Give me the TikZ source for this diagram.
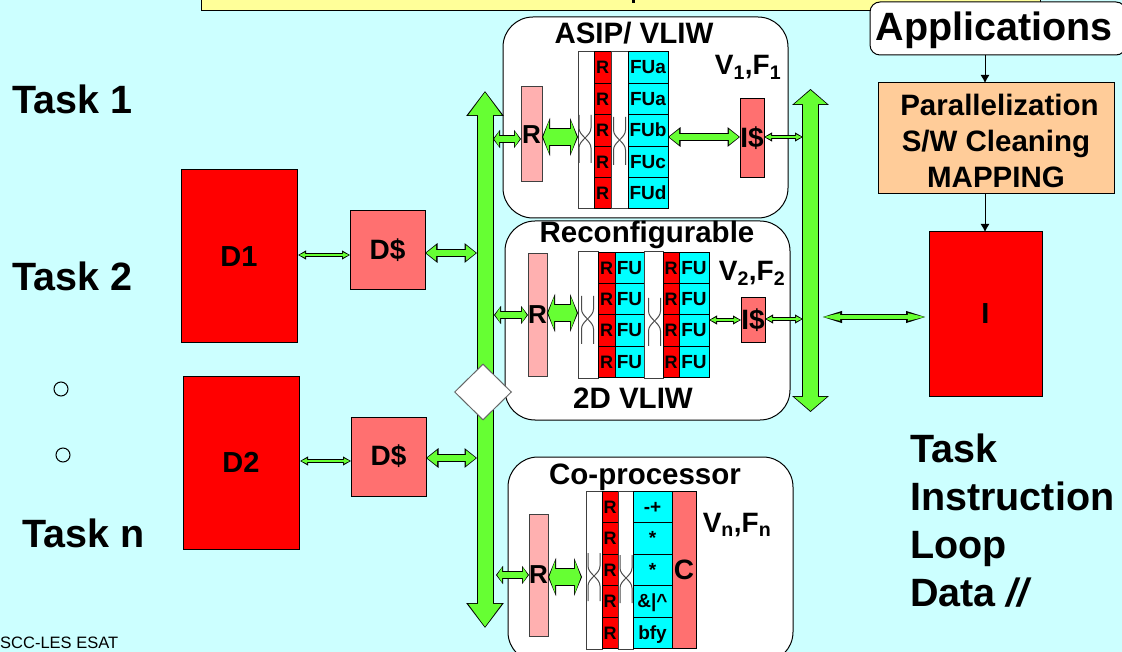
\documentclass[tikz,border=0pt]{standalone}
\usepackage{fontspec}
\setmainfont{Liberation Sans}
\usetikzlibrary{positioning, shapes.multipart, shapes.geometric, arrows.meta}
\definecolor{paper}{HTML}{CCFFFF}
\definecolor{busgreen}{HTML}{66FF33}
\definecolor{lightred}{HTML}{FFB0B0}
\definecolor{midred}{HTML}{FF7070}
\definecolor{mapcolor}{HTML}{FFCC99}
\definecolor{titleyellow}{HTML}{FFFF99}
\definecolor{fucyan}{HTML}{00FFFF}
\newcommand{\rowtext}[1]{\rule[-9pt]{0pt}{30.4pt}#1}
\tikzset{
    block/.style={
        draw,
        rectangle,
        inner sep=0pt,
        outer sep=0pt,
        line width=1pt,
        anchor=north west,
    },
    membox/.style={block, fill=red, font=\fontsize{29}{33}\selectfont\bfseries},
    cachebox/.style={block, fill=midred, font=\fontsize{28}{32}\selectfont\bfseries},
    regbox/.style={block, fill=lightred, draw=black!75, font=\fontsize{26}{30}\selectfont\bfseries},
    unitbox/.style={block, fill=white, rounded corners=30pt},
    muxcol/.style={block, fill=white, draw=black!75, anchor=center},
    stack/.style={
        draw,
        rectangle split,
        rectangle split parts=#1,
        inner sep=0pt,
        outer sep=0pt,
        line width=1pt,
        font=\fontsize{19}{21}\selectfont\bfseries,
    },
    regstack/.style={stack=#1, rectangle split part fill={red}, font=\fontsize{18}{20}\selectfont\bfseries},
    fustack/.style={stack=#1, rectangle split part fill={fucyan}},
    bigtext/.style={font=\fontsize{39.5}{48}\selectfont\bfseries, inner sep=0pt, anchor=west},
    titletext/.style={font=\fontsize{29.5}{34}\selectfont\bfseries, inner sep=0pt},
    vftext/.style={font=\fontsize{28}{32}\selectfont\bfseries, inner sep=0pt},
    link/.style n args={6}{
        line width=#1,
        draw=busgreen,
        shorten >=1.2pt,
        shorten <=1.2pt,
        {Triangle[length=#5,width=#3]}-{Triangle[length=#5,width=#3]},
        preaction={
            draw=black,
            line width=#2,
            shorten >=0pt,
            shorten <=0pt,
            {Triangle[length=#6,width=#4]}-{Triangle[length=#6,width=#4]},
        },
    },
    hairlink/.style={link={1.6}{3.4}{5}{8.5}{6}{8}},
    thinlink/.style={link={3.5}{5.5}{6.5}{10}{20}{23}},
    smalllink/.style={link={6}{8}{15}{18}{5}{7}},
    midlink/.style={link={6}{8}{15}{19}{10}{12.5}},
    widelink/.style={link={16}{18.5}{33}{38}{6}{8}},
    lbuslink/.style={link={15}{17}{32}{36}{23}{25}},
    rbuslink/.style={link={15}{17}{32}{36}{14}{16}},
    flowarrow/.style={line width=1pt, -{Latex[length=8pt,width=9pt]}},
    crossline/.style={draw=black!70, line width=1pt},
    crossing/.pic={
        \draw[crossline] (-6,-24) -- (-6,-11) .. controls (-6,-3) and (6,1) .. (6,9) -- (6,24);
        \draw[crossline] (6,-24) -- (6,-11) .. controls (6,-3) and (-6,1) .. (-6,9) -- (-6,24);
    },
}
\begin{document}
\begin{tikzpicture}[x=1pt, y=-1pt, node distance=0pt]
        \path[use as bounding box, fill=paper] (0,0) rectangle (1122,652);
        % top bar
        \node[block, fill=titleyellow, minimum width=839pt, minimum height=30pt, anchor=south west] (bar) at (201,11) {};
        \node[fill=black, inner sep=0pt, minimum width=3pt, minimum height=3pt] (barmark) at (633,1.5) {};
        % left side
        \node[bigtext] (task1) at (12,99) {Task 1};
        \node[bigtext] (task2) at (12,276) {Task 2};
        \node[bigtext] (taskn) at (22,533) {Task n};
        \node[draw, circle, line width=1pt, minimum size=14pt, inner sep=0pt] (dot1) at (61,389) {};
        \node[draw, circle, line width=1pt, minimum size=14pt, inner sep=0pt] (dot2) at (63,455) {};
        \node[inner sep=0pt, anchor=west, font=\fontsize{16.5}{18}\selectfont] (esat) at (0,643) {SCC-LES ESAT};
        \node[membox, minimum width=116pt, minimum height=173pt] (d1) at (181,170) {D1};
        \node[membox, minimum width=116pt, minimum height=173pt] (d2) at (183,376) {D2};
        \node[cachebox, minimum width=75pt, minimum height=79pt] (dc1) at (350,211) {D\$};
        \node[cachebox, minimum width=75pt, minimum height=79pt] (dc2) at (351,417) {D\$};
        % ASIP
        \node[unitbox, minimum width=285pt, minimum height=201pt] (asip) at (503,17) {};
        \node[regbox, minimum width=21pt, minimum height=95pt] (asipr) at (521,87) {R};
        \node[muxcol, minimum width=16pt, minimum height=157pt] (asipa) at (586,130.5) {};
        \node[regstack=5, minimum width=17pt, right=of asipa] (asipregs) {\rowtext{R}
        \nodepart{two} \rowtext{R}
        \nodepart{three} \rowtext{R}
        \nodepart{four} \rowtext{R}
        \nodepart{five} \rowtext{R}};
        \node[muxcol, minimum width=17pt, minimum height=157pt, right=of asipregs] (asipb) {};
        \node[fustack=5, minimum width=40pt, right=of asipb] (asipfu) {\rowtext{FUa}
        \nodepart{two} \rowtext{FUa}
        \nodepart{three} \rowtext{FUb}
        \nodepart{four} \rowtext{FUc}
        \nodepart{five} \rowtext{FUd}};
        \node[cachebox, minimum width=24pt, minimum height=79pt] (asipic) at (740,99) {I\$};
        \pic at (585,139) {crossing};
        \pic at (619.5,141) {crossing};
        \node[titletext] (asiptitle) at (634,33) {ASIP/ VLIW};
        \node[vftext] (v1) at (748,67) {V\textsubscript{1},F\textsubscript{1}};
        % Reconfigurable
        \node[unitbox, minimum width=285pt, minimum height=199pt] (recon) at (505,221) {};
        \node[regbox, minimum width=19pt, minimum height=122pt] (reconr) at (528,254) {R};
        \node[muxcol, minimum width=20pt, minimum height=126pt] (recona) at (588,315) {};
        \node[regstack=4, minimum width=17pt, right=of recona] (reconregsa) {\rowtext{R}
        \nodepart{two} \rowtext{R}
        \nodepart{three} \rowtext{R}
        \nodepart{four} \rowtext{R}};
        \node[fustack=4, minimum width=29pt, right=of reconregsa] (reconfua) {\rowtext{FU}
        \nodepart{two} \rowtext{FU}
        \nodepart{three} \rowtext{FU}
        \nodepart{four} \rowtext{FU}};
        \node[muxcol, minimum width=19pt, minimum height=126pt, right=of reconfua] (reconb) {};
        \node[regstack=4, minimum width=16pt, right=of reconb] (reconregsb) {\rowtext{R}
        \nodepart{two} \rowtext{R}
        \nodepart{three} \rowtext{R}
        \nodepart{four} \rowtext{R}};
        \node[fustack=4, minimum width=30pt, right=of reconregsb] (reconfub) {\rowtext{FU}
        \nodepart{two} \rowtext{FU}
        \nodepart{three} \rowtext{FU}
        \nodepart{four} \rowtext{FU}};
        \node[cachebox, minimum width=24pt, minimum height=45pt] (reconic) at (741,298) {I\$};
        \pic at (587.5,320) {crossing};
        \pic at (654.5,322) {crossing};
        \node[titletext] (recontitle) at (647,235) {Reconfigurable};
        \node[titletext] (recontwod) at (633,398) {2D VLIW};
        \node[vftext] (v2) at (752,273) {V\textsubscript{2},F\textsubscript{2}};
        % Co-processor
        \node[unitbox, minimum width=285pt, minimum height=205pt] (copro) at (508,457) {};
        \node[regbox, minimum width=19pt, minimum height=122pt] (copror) at (529,514) {R};
        \node[muxcol, minimum width=16pt, minimum height=158pt] (coproa) at (594,570) {};
        \node[regstack=5, minimum width=16pt, right=of coproa] (coproregs) {\rowtext{R}
        \nodepart{two} \rowtext{R}
        \nodepart{three} \rowtext{R}
        \nodepart{four} \rowtext{R}
        \nodepart{five} \rowtext{R}};
        \node[muxcol, minimum width=15pt, minimum height=158pt, right=of coproregs] (coprob) {};
        \node[fustack=5, minimum width=39pt, right=of coprob] (coprofu) {\rowtext{-+}
        \nodepart{two} \rowtext{*}
        \nodepart{three} \rowtext{*}
        \nodepart{four} \rowtext{\&|\textasciicircum}
        \nodepart{five} \rowtext{bfy}};
        \node[cachebox, minimum width=24pt, minimum height=157pt, anchor=west, right=of coprofu] (coproc) {C};
        \pic at (594,577) {crossing};
        \pic at (626,579) {crossing};
        \node[titletext] (coprotitle) at (645,477) {Co-processor};
        \node[vftext] (vn) at (737,525) {V\textsubscript{n},F\textsubscript{n}};
        % right side
        \node[block, fill=white, rounded corners=10pt, minimum width=256pt, minimum height=53pt, font=\fontsize{39.5}{45}\selectfont\bfseries] (apps) at (870,2) {\rule{0pt}{33pt}\hspace{-8pt}Applications};
        \node[block, fill=mapcolor, minimum width=236pt, minimum height=111pt, align=center, font=\fontsize{29.5}{36}\selectfont\bfseries] (map) at (878,83) {\rule{0pt}{25.5pt}\hspace{7pt}Parallelization\\S/W Cleaning\\MAPPING};
        \node[block, fill=red, minimum width=113pt, minimum height=164pt, font=\fontsize{29}{33}\selectfont\bfseries] (imem) at (929,232) {I};
        \node[inner sep=0pt, anchor=north west, align=left, font=\fontsize{39.5}{48}\selectfont\bfseries] (levels) at (910,434) {Task\\Instruction\\Loop\\Data \textit{//}};
        % buses
        \coordinate (bustopl) at (485,91);
        \coordinate (busbotl) at (485,628);
        \coordinate (bustopr) at (810.5,89);
        \coordinate (busbotr) at (810.5,412);
        \draw[lbuslink] (bustopl) to (busbotl);
        \draw[rbuslink] (bustopr) to (busbotr);
        \node[diamond, draw=black!60, fill=white, line width=1pt, minimum width=57pt, minimum height=56pt, inner sep=0pt] (branch) at (483,392) {};
        % connectors
        \coordinate (dlink1) at (298,255);
        \coordinate (dlink2) at (300,461);
        \coordinate (dbus1) at (477,253);
        \coordinate (dbus2) at (477,458);
        \coordinate (asipbus) at (493,139);
        \coordinate (reconbus) at (494,315);
        \coordinate (coprobus) at (496,575);
        \coordinate (asiprb) at (803,137);
        \coordinate (reconrb) at (803,319);
        \coordinate (imemrb) at (819,317);
        \coordinate (asiphub) at (0,137);
        \coordinate (reconhub) at (0,313);
        \coordinate (coprohub) at (582,577);
        \coordinate (fuhub) at (0,320);
        \coordinate (flowx) at (985,0);
        \draw[hairlink] (dlink1) to (dc1.west |- dlink1);
        \draw[hairlink] (dlink2) to (dc2.west |- dlink2);
        \draw[midlink] (dc1.east |- dbus1) to (dbus1);
        \draw[midlink] (dc2.east |- dbus2) to (dbus2);
        \draw[smalllink] (asipbus) to (asipr.west |- asipbus);
        \draw[smalllink] (reconbus) to (reconr.west |- reconbus);
        \draw[smalllink] (coprobus) to (copror.west |- coprobus);
        \draw[widelink] (asipr.east |- asiphub) to (asipa.west |- asiphub);
        \draw[widelink] (reconr.east |- reconhub) to (recona.west |- reconhub);
        \draw[widelink] (copror.east |- coprohub) to (coprohub);
        \draw[midlink] (asipfu.east |- asiphub) to (asipic.west |- asiphub);
        \draw[hairlink] (asipic.east |- asiprb) to (asiprb);
        \draw[hairlink] (reconfub.east |- fuhub) to (reconic.west |- fuhub);
        \draw[hairlink] (reconic.east |- reconrb) to (reconrb);
        \draw[thinlink] (imemrb) to (imem.west |- imemrb);
        \draw[flowarrow] (apps.south -| flowx) to (map.north -| flowx);
        \draw[flowarrow] (map.south -| flowx) to (imem.north -| flowx);
\end{tikzpicture}
\end{document}
